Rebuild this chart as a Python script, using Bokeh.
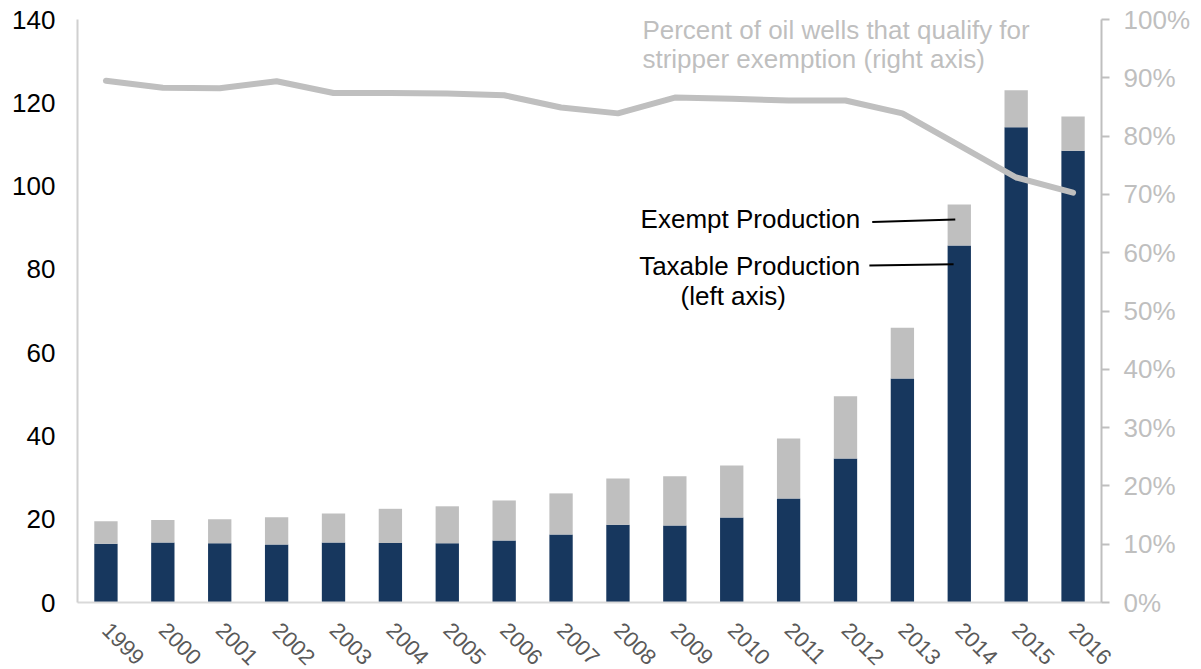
from bokeh.plotting import figure
from bokeh.models import (FactorRange, Range1d, LinearAxis, SingleIntervalTicker,
                          PrintfTickFormatter, Label, ColumnDataSource)
from bokeh.embed import file_html
from bokeh.resources import INLINE
import math

years = [str(y) for y in range(1999, 2017)]
taxable = [14.1, 14.4, 14.2, 13.9, 14.4, 14.3, 14.2, 14.9, 16.3, 18.7, 18.5, 20.4, 25.0, 34.6, 53.8, 85.7, 114.1, 108.5]
total = [19.5, 19.8, 20.0, 20.5, 21.4, 22.5, 23.1, 24.5, 26.2, 29.8, 30.3, 32.9, 39.4, 49.5, 66.0, 95.6, 123.0, 116.7]
exempt = [round(t - x, 1) for t, x in zip(total, taxable)]
pct_stripper = [89.5, 88.3, 88.2, 89.4, 87.4, 87.4, 87.3, 87.0, 84.9, 83.9, 86.6, 86.4, 86.1, 86.1, 83.9, 78.4, 72.9, 70.3]

NAVY = "#17375E"
GRAY = "#BFBFBF"
FONT = "Liberation Sans"

p = figure(x_range=FactorRange(factors=years, range_padding=0),
           y_range=Range1d(0, 140),
           frame_width=1024, frame_height=583,
           min_border_left=77, min_border_top=19, min_border_right=40, min_border_bottom=40,
           output_backend="svg", toolbar_location=None)
p.extra_y_ranges = {"pct": Range1d(0, 100)}

src = ColumnDataSource(dict(year=years, taxable=taxable, exempt=exempt, pct=pct_stripper))
p.vbar_stack(["taxable", "exempt"], x="year", width=0.41, source=src,
             color=[NAVY, GRAY], line_color=None)
p.line(x="year", y="pct", source=src, y_range_name="pct", line_width=6,
       line_color=GRAY, line_cap="round", line_join="round")

p.outline_line_color = None
p.xgrid.visible = False
p.ygrid.visible = False

# left axis
ya = p.yaxis[0]
ya.ticker = SingleIntervalTicker(interval=20)
ya.major_tick_out = 0
ya.major_tick_in = 0
ya.minor_tick_out = 0
ya.minor_tick_in = 0
ya.axis_line_color = "#D0D0D0"
ya.axis_line_width = 2
ya.major_label_text_font = FONT
ya.major_label_text_font_size = "26px"
ya.major_label_text_color = "#000000"
ya.major_label_standoff = 22

# bottom axis
xa = p.xaxis[0]
xa.major_tick_out = 0
xa.major_tick_in = 0
xa.axis_line_color = "#D9D9D9"
xa.axis_line_width = 2
xa.major_label_orientation = -math.pi / 4
xa.major_label_text_font = FONT
xa.major_label_text_font_size = "22px"
xa.major_label_text_color = "#595959"
xa.major_label_standoff = 24

# right axis
ra = LinearAxis(y_range_name="pct", ticker=SingleIntervalTicker(interval=10),
                formatter=PrintfTickFormatter(format="%d%%"))
ra.major_tick_out = 8
ra.major_tick_in = 0
ra.minor_tick_out = 0
ra.minor_tick_in = 0
ra.axis_line_color = GRAY
ra.axis_line_width = 2
ra.major_tick_line_color = GRAY
ra.major_tick_line_width = 2
ra.major_label_text_font = FONT
ra.major_label_text_font_size = "26px"
ra.major_label_text_color = GRAY
ra.major_label_standoff = 14
p.add_layout(ra, "right")

# annotations
def lab(x, y, text, color="#000000", align="left"):
    p.add_layout(Label(x=x, y=y, text=text, text_font=FONT, text_font_size="26px",
                       text_color=color, text_align=align, text_baseline="alphabetic"))

lab(9.93, 137.4, "Percent of oil wells that qualify for", GRAY)
lab(9.93, 130.6, "stripper exemption (right axis)", GRAY)
lab(13.76, 92.2, "Exempt Production", align="right")
lab(13.76, 80.9, "Taxable Production", align="right")
lab(10.6, 73.5, "(left axis)")

lead = ColumnDataSource(dict(x0=[13.97, 13.92], y0=[91.4, 80.9], x1=[15.43, 15.40], y1=[92.0, 81.2]))
p.segment(x0="x0", y0="y0", x1="x1", y1="y1", source=lead, line_color="#000000", line_width=2)

open("out.html", "w").write(file_html(p, INLINE))
